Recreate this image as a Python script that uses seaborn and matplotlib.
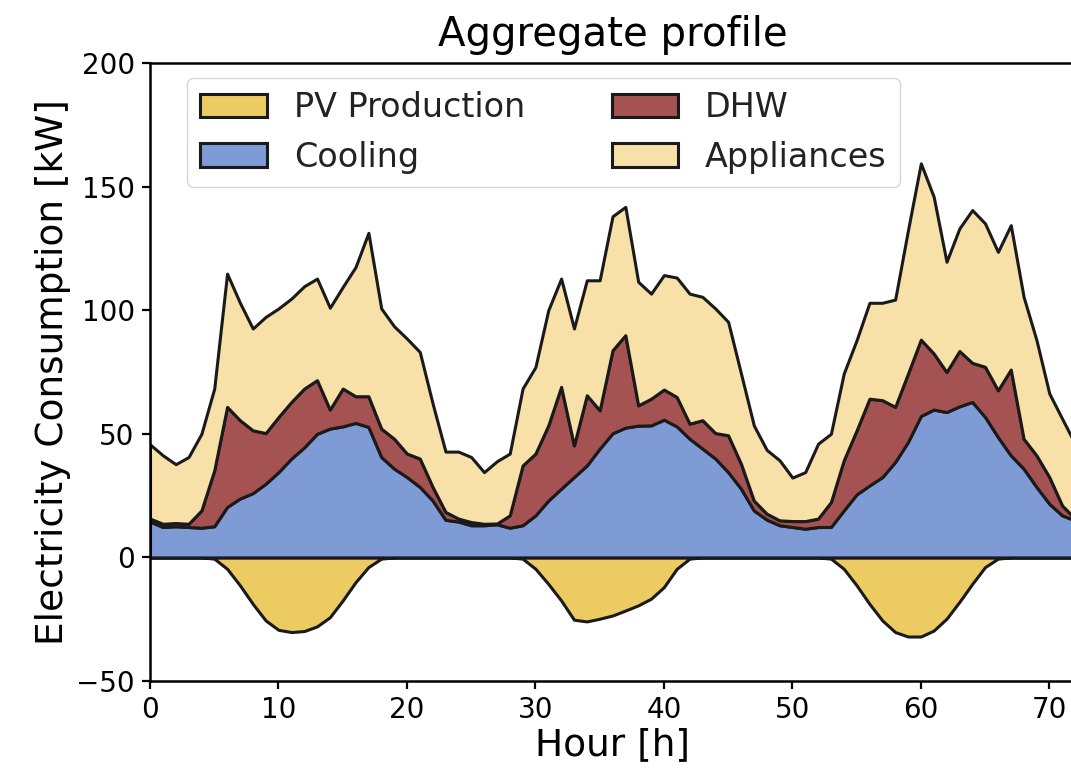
import numpy as np
import pandas as pd
import matplotlib
matplotlib.use("Agg")
import matplotlib.pyplot as plt
import seaborn as sns

hours = list(range(73))

cooling = [14.5, 12.3, 12.6, 12.3, 12.0, 12.6, 20.4, 23.8, 26.0, 29.8,
           34.5, 40.0, 44.5, 50.0, 52.1, 53.0, 54.4, 52.8, 40.6, 35.9,
           32.5, 28.5, 23.0, 15.2, 14.5, 13.0, 13.0, 13.4, 12.0, 13.0,
           17.0, 23.0, 27.8, 32.5, 37.2, 44.0, 50.2, 52.5, 53.3, 53.4,
           55.7, 53.0, 48.0, 44.0, 40.0, 34.5, 27.8, 19.0, 15.3, 13.0,
           12.3, 11.6, 12.3, 12.3, 19.0, 25.5, 29.1, 32.5, 38.6, 46.7,
           57.2, 59.8, 58.8, 61.1, 62.9, 56.8, 48.7, 41.3, 35.9, 28.5,
           21.7, 17.0, 15.0]

dhw = [1.2, 1.3, 1.3, 1.3, 7.0, 22.6, 40.5, 31.7, 25.4, 20.5,
       22.3, 22.9, 23.8, 21.7, 7.7, 15.3, 10.8, 12.4, 11.5, 12.1,
       9.5, 11.5, 5.5, 3.2, 1.2, 1.3, 0.6, 0.3, 5.0, 24.2,
       25.0, 30.4, 41.2, 12.8, 28.4, 15.5, 33.6, 37.4, 8.2, 10.8,
       12.2, 11.9, 6.1, 11.5, 10.3, 14.9, 10.1, 4.0, 2.4, 2.0,
       2.4, 3.1, 3.4, 10.1, 20.3, 25.9, 35.1, 31.1, 22.3, 27.7,
       30.9, 22.7, 16.2, 22.4, 15.8, 20.3, 18.9, 34.7, 12.1, 12.8,
       10.8, 4.0, 0.7]

appliances = [30.0, 27.7, 23.8, 27.0, 31.0, 33.1, 53.9, 47.5, 41.2, 47.0,
              43.9, 41.8, 41.4, 41.1, 41.2, 41.1, 52.3, 66.1, 48.6, 45.5,
              46.5, 43.1, 33.7, 24.4, 27.1, 26.3, 20.9, 25.2, 25.0, 31.1,
              35.0, 46.6, 43.8, 47.3, 46.5, 52.6, 54.2, 51.9, 50.0, 42.5,
              46.3, 48.3, 52.6, 49.9, 50.4, 45.9, 36.5, 30.4, 25.8, 24.3,
              17.6, 19.8, 30.3, 27.6, 35.1, 36.5, 38.8, 39.4, 43.4, 58.0,
              71.3, 63.4, 44.6, 49.6, 61.8, 58.0, 56.0, 58.4, 57.4, 46.6,
              33.8, 35.1, 30.3]

pv = [0, 0, 0, 0, 0, -0.5, -4.6, -11.3, -18.8, -25.5,
      -29.3, -30.2, -29.8, -27.9, -24.2, -17.4, -10.0, -3.9, -0.5, 0,
      0, 0, 0, 0, 0, 0, 0, 0, 0, -0.5,
      -4.6, -10.7, -17.4, -25.2, -25.9, -24.8, -23.5, -21.5, -19.4, -16.7,
      -12.0, -4.6, -0.5, 0, 0, 0, 0, 0, 0, 0,
      0, 0, 0, -0.5, -4.6, -11.3, -18.8, -25.5, -30.2, -32.0,
      -32.0, -29.6, -24.8, -18.0, -10.7, -3.9, -0.5, 0, 0, 0,
      0, 0, 0]

labels = ["PV Production", "Cooling", "DHW", "Appliances"]
colors = {"PV Production": "#ECCB63", "Cooling": "#7E9BD5",
          "DHW": "#A55252", "Appliances": "#F8E0A9"}

df = pd.DataFrame({"Hour": hours, "Cooling": cooling, "DHW": dhw,
                   "Appliances": appliances, "PV Production": pv})

sns.set_theme(style="ticks")
plt.rcParams["font.family"] = ["DejaVu Sans"]
plt.rcParams["axes.edgecolor"] = "black"
plt.rcParams["axes.linewidth"] = 1.8
plt.rcParams["xtick.color"] = "black"
plt.rcParams["ytick.color"] = "black"
plt.rcParams["xtick.major.width"] = 1.6
plt.rcParams["ytick.major.width"] = 1.6
plt.rcParams["xtick.major.size"] = 6
plt.rcParams["ytick.major.size"] = 6
plt.rcParams["text.color"] = "black"

fig = plt.figure(figsize=(10.71, 7.69), dpi=100)
ax = fig.add_axes([150 / 1071, 88 / 769, 925 / 1071, 618 / 769])

pv_poly = ax.stackplot(df["Hour"], df["PV Production"],
                       colors=[colors["PV Production"]],
                       edgecolor="#1a1a1a", linewidth=2.2)
polys = ax.stackplot(df["Hour"], df["Cooling"], df["DHW"], df["Appliances"],
                     colors=[colors["Cooling"], colors["DHW"], colors["Appliances"]],
                     edgecolor="#1a1a1a", linewidth=2.2)

ax.set_xlim(0, 72)
ax.set_ylim(-50, 200)
ax.set_xticks(range(0, 71, 10))
ax.set_yticks(range(-50, 201, 50))
ax.tick_params(axis="both", labelsize=20, direction="out", pad=5)

ax.set_title("Aggregate profile", fontsize=29, pad=12, color="black")
ax.set_xlabel("Hour [h]", fontsize=27, labelpad=2, color="black")
ax.set_ylabel("Electricity Consumption [kW]", fontsize=27, labelpad=4, color="black")

handles = [pv_poly[0]] + list(polys)
leg = ax.legend(handles, labels, ncol=2, loc="upper left",
                bbox_to_anchor=(0.04, 0.976), borderaxespad=0,
                fontsize=24, frameon=True, framealpha=0.8,
                columnspacing=2.6, handlelength=2.0)
for t in leg.get_texts():
    t.set_color("#222222")

fig.savefig("out.png", dpi=100)
